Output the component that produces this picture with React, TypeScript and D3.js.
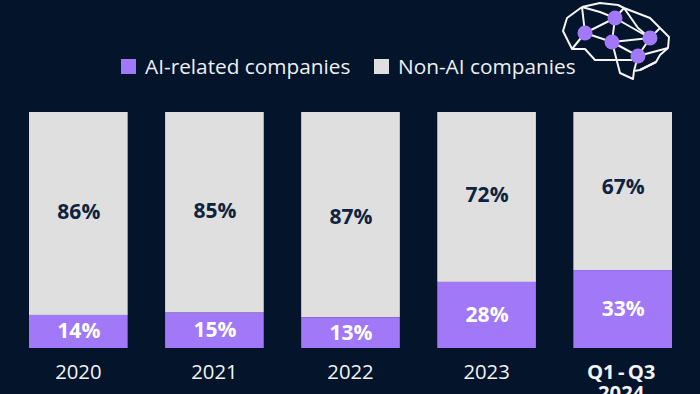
import React from "react";
import * as d3 from "d3";

const categories = ["2020", "2021", "2022", "2023", "Q1 - Q3|2024"];
const aiShare = [14, 15, 13, 28, 33];
const nonAiShare = [86, 85, 87, 72, 67];
const legendLabels = ["AI-related companies", "Non-AI companies"];

const BG = "#03142b";
const PURPLE = "#a178f7";
const GREY = "#dfdfdf";
const NAVY = "#0f2240";
const FONT = "'Open Sans', sans-serif";

const topNudge = [-2, -2, 2, -2, -5];
const brainNodes: [number, number][] = [[585, 33], [615, 18], [612, 42], [650, 38], [638, 56]];
const brainLines: [number, number][][] = [
  [[582, 7], [567, 18], [563, 31], [572, 49], [585, 49], [595, 60], [632, 60]],
  [[582, 7], [600, 12], [615, 18], [624, 8], [618, 5], [600, 3], [582, 7]],
  [[624, 8], [650, 18], [660, 28], [669, 37], [668, 48], [660, 55], [656, 62], [640, 70], [634, 71], [633, 79], [620, 73], [612, 42]],
  [[582, 7], [585, 33], [572, 49]],
  [[585, 33], [615, 18], [612, 42], [585, 33]],
  [[615, 18], [650, 38], [612, 42]],
  [[624, 8], [638, 28], [650, 38], [638, 56], [612, 42]],
  [[650, 38], [660, 28]],
  [[638, 56], [668, 48]],
  [[638, 56], [634, 71]],
  [[640, 70], [656, 62]],
];

export default function App() {
  const x = d3.scaleBand().domain(categories).range([29, 672]).paddingInner(0.275).paddingOuter(0);
  const y = d3.scaleLinear().domain([0, 100]).range([348, 112]);
  const line = d3.line();
  return (
    <svg width={700} height={394} viewBox="0 0 700 394"
      style={{ position: "absolute", left: 0, top: 0, display: "block", fontFamily: FONT }}>
      <rect width={700} height={394} fill={BG} />
      {brainLines.map((p, i) => (
        <path key={i} d={line(p) ?? ""} fill="none" stroke="#f5f5f5" strokeWidth={2} strokeLinejoin="round" />
      ))}
      {brainNodes.map((c, i) => <circle key={i} cx={c[0]} cy={c[1]} r={7.5} fill={PURPLE} />)}

      <rect x={121} y={59} width={15} height={15} fill={PURPLE} />
      <text x={145} y={74} fontSize={20.8} fill="#eef0f3">{legendLabels[0]}</text>
      <rect x={374} y={59} width={15} height={15} fill={GREY} />
      <text x={398} y={74} fontSize={20.8} fill="#eef0f3">{legendLabels[1]}</text>

      {categories.map((c, i) => {
        const bx = x(c) ?? 0;
        const w = x.bandwidth();
        const cx = bx + w / 2;
        const split = y(aiShare[i]);
        const lines = c.split("|");
        const bold = lines.length > 1;
        return (
          <g key={c}>
            <rect x={bx} y={y(100)} width={w} height={split - y(100)} fill={GREY} />
            <rect x={bx} y={split} width={w} height={y(0) - split} fill={PURPLE} />
            <text x={cx + 0.5} y={(y(100) + split) / 2 + 7.5 + topNudge[i]} textAnchor="middle" fontSize={21} fontWeight={700} fill={NAVY}>{nonAiShare[i]}%</text>
            <text x={cx + 0.5} y={(split + y(0)) / 2 + 7} textAnchor="middle" fontSize={21} fontWeight={700} fill="#ffffff">{aiShare[i]}%</text>
            {lines.map((l, j) => (
              <text key={l} x={bold ? cx - 1.5 : cx} y={379 + j * 21} textAnchor="middle" fontSize={20.3}
                fontWeight={bold ? 700 : 400} fill="#f2f3f5" wordSpacing={bold ? -2 : 0}>{l}</text>
            ))}
          </g>
        );
      })}
    </svg>
  );
}
